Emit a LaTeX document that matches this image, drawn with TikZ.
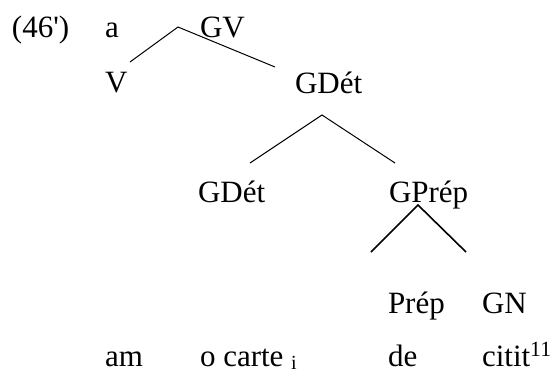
\documentclass[tikz,border=0pt]{standalone}
\usepackage{fontspec}
\setmainfont{Liberation Serif}
\newfontfamily\nomap{Liberation Serif}[Ligatures=TeXOff]
\begin{document}
\begin{tikzpicture}[x=1pt,y=-1pt,
  lab/.style={anchor=base west,inner sep=0pt,outer sep=0pt,font=\fontsize{31}{36}\selectfont},
  thin/.style={line width=1pt},
  thick2/.style={line width=1.6pt}]
\useasboundingbox (0,0) rectangle (555,373);
\node[lab] (ex) at (12,37) {\nomap(46')};
\node[lab] (a) at (105,37) {a};
\node[lab] (gv) at (200,37) {GV};
\node[lab] (v) at (105,92) {V};
\node[lab] (gdet1) at (295,93) {GDét};
\node[lab] (gdet2) at (198,202) {GDét};
\node[lab] (gprep) at (389,202) {GPrép};
\node[lab] (prep) at (388,313) {Prép};
\node[lab] (gn) at (482,313) {GN};
\node[lab] (am) at (105,366) {am};
\node[lab] (ocarte) at (200,366) {o carte \raisebox{-3pt}{\fontsize{20}{20}\selectfont i}};
\node[lab] (de) at (388,366) {de};
\node[lab] (citit) at (482,366) {citit\textsuperscript{11}};
\coordinate (t1) at (178,27);
\coordinate (l1) at (130,62);
\coordinate (r1) at (275,67);
\coordinate (t2) at (322,115);
\coordinate (l2) at (250,163);
\coordinate (r2) at (395,163);
\coordinate (t3) at (418,205);
\coordinate (l3) at (371,252);
\coordinate (r3) at (466,252);
\draw[thin] (l1) -- (t1) -- (r1);
\draw[thin] (l2) -- (t2) -- (r2);
\draw[thick2] (l3) -- (t3) -- (r3);
\end{tikzpicture}
\end{document}
